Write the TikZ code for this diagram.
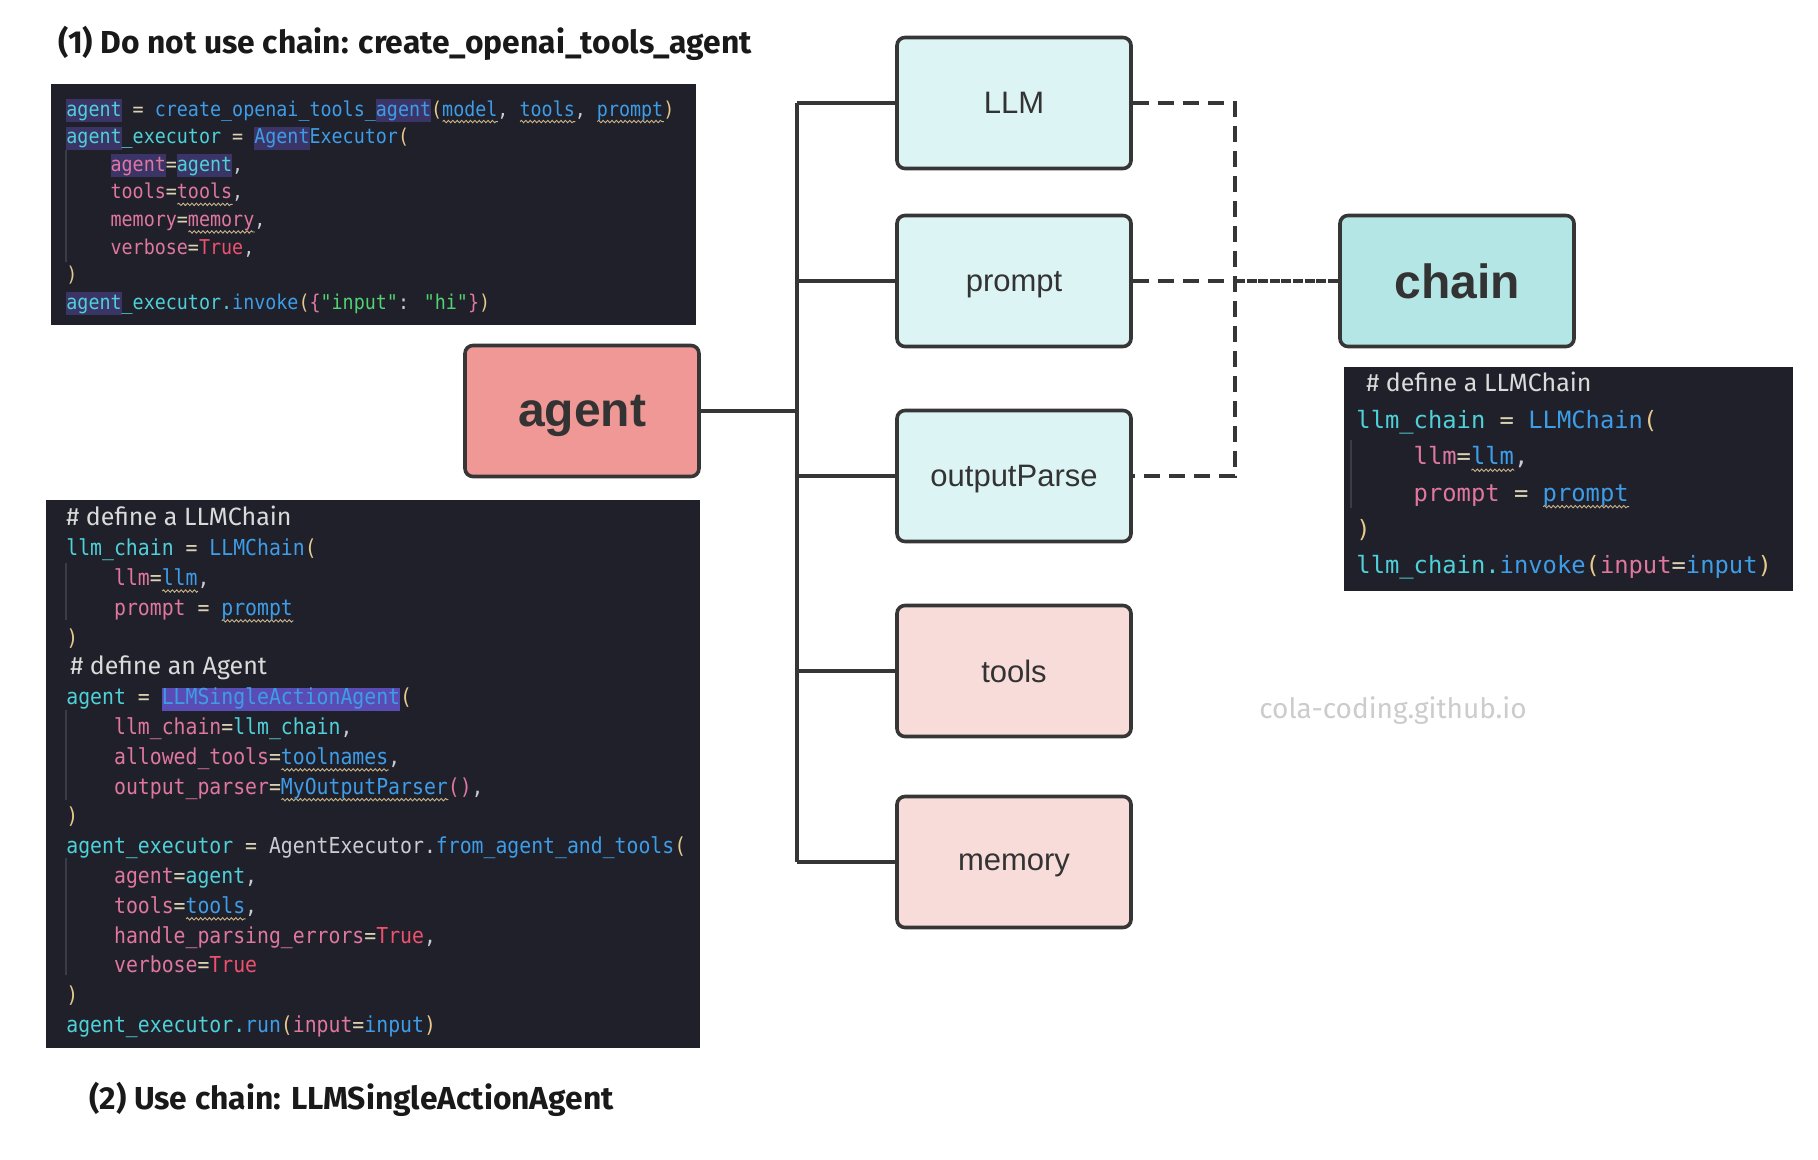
\documentclass[tikz,border=0pt]{standalone}
\usepackage{fontspec}
\usetikzlibrary{decorations.pathmorphing}
\setmainfont{Liberation Sans}
\newfontfamily\handfont{Fira Sans}
\newfontfamily\codefont{DejaVu Sans Mono}[FakeStretch=0.9]
\newfontfamily\menlofont{DejaVu Sans Mono}

% colours
\definecolor{codebg}{HTML}{1F2029}
\definecolor{cyanlt}{HTML}{DCF4F4}
\definecolor{pinklt}{HTML}{F8DCDA}
\definecolor{agentred}{HTML}{EF9896}
\definecolor{chaincyan}{HTML}{B5E6E6}
\definecolor{boxline}{HTML}{363636}
\definecolor{boxtext}{HTML}{333333}
\definecolor{cvar}{HTML}{4FD1D9}
\definecolor{cfun}{HTML}{3E9DE8}
\definecolor{ckey}{HTML}{E0779F}
\definecolor{cbool}{HTML}{F0506E}
\definecolor{cop}{HTML}{DCD3B4}
\definecolor{cparen}{HTML}{E6C98C}
\definecolor{cstr}{HTML}{52D273}
\definecolor{ctxt}{HTML}{C9CCD3}
\definecolor{ccom}{HTML}{DADADA}
\definecolor{hlbg}{HTML}{3A3566}
\definecolor{hlbright}{HTML}{5A4CB5}
\definecolor{wavec}{HTML}{C8B48A}
\definecolor{guide}{HTML}{3A3D48}

% code colouring
\newcommand\tVar[1]{\textcolor{cvar}{#1}}
\newcommand\tFun[1]{\textcolor{cfun}{#1}}
\newcommand\tKey[1]{\textcolor{ckey}{#1}}
\newcommand\tBool[1]{\textcolor{cbool}{#1}}
\newcommand\tOp[1]{\textcolor{cop}{#1}}
\newcommand\tPar[1]{\textcolor{cparen}{#1}}
\newcommand\tStr[1]{\textcolor{cstr}{#1}}
\newcommand\tTxt[1]{\textcolor{ctxt}{#1}}
\newcommand\tCom[1]{{\handfont\fontsize{12.5pt}{14pt}\selectfont\textcolor{ccom}{#1}}}
\newcommand\ind{\phantom{xxxx}}
\newsavebox\wordbox
\newlength\wordlen
\newcommand\hlword[2][hlbg]{\sbox\wordbox{#2}\setlength\wordlen{\wd\wordbox}%
  \smash{\rlap{\color{#1}\rule[-3pt]{\wordlen}{11.5pt}}}\usebox\wordbox}
\newcommand\wavy[1]{\sbox\wordbox{#1}\setlength\wordlen{\wd\wordbox}%
  \smash{\rlap{\raisebox{-3.6pt}{\tikz\draw[wavec, line width=0.45pt, decorate,
    decoration={snake, amplitude=0.6pt, segment length=2.2pt}] (0pt,0pt) -- (\wordlen,0pt);}}}%
  \usebox\wordbox}

\tikzset{
  block/.style={draw=boxline, line width=1.8pt, rounded corners=4pt,
    minimum width=117pt, minimum height=65.5pt, text=boxtext, text depth=0pt,
    font=\fontsize{15.5pt}{18pt}\selectfont},
  partbox/.style={block, fill=cyanlt},
  toolbox/.style={block, fill=pinklt},
  bigbox/.style={block, font=\bfseries\fontsize{24pt}{28pt}\selectfont},
  trunk/.style={draw=boxline, line width=1.8pt},
  dashlink/.style={draw=boxline, line width=1.9pt, dash pattern=on 8pt off 4.5pt},
  chainlink/.style={draw=boxline, line width=2pt, dash pattern=on 5pt off 0.8pt},
  codetext/.style={anchor=north west, align=left, inner sep=0pt, text=ctxt},
  title/.style={anchor=west, inner sep=0pt, text=black!90,
    font=\handfont\bfseries\fontsize{15.9pt}{19pt}\selectfont}
}

\begin{document}
\begin{tikzpicture}[x=0.5pt,y=-0.5pt]
\useasboundingbox[fill=white] (0,0) rectangle (1818,1160);

% code panels
\fill[codebg] (51,84) rectangle (696,325);
\fill[codebg] (46,500) rectangle (700,1048);
\fill[codebg] (1344,367) rectangle (1793,591);
\draw[guide, line width=0.6pt] (66,150) -- (66,262);
\draw[guide, line width=0.6pt] (66,563) -- (66,620);
\draw[guide, line width=0.6pt] (66,710) -- (66,800);
\draw[guide, line width=0.6pt] (66,858) -- (66,975);
\draw[guide, line width=0.6pt] (1351,440) -- (1351,508);

% titles
\node[title] (title1) at (58,43) {(1) Do not use chain: create\_openai\_tools\_agent};
\node[title] (title2) at (89,1099) {(2) Use chain: LLMSingleActionAgent};
\node[text=black!20, font=\handfont\fontsize{14pt}{16pt}\selectfont] (mark) at (1393,711) {cola-coding.github.io};

% code without chain
\node[codetext, font=\codefont\fontsize{10.2pt}{13.8pt}\selectfont] (codeA) at (66,100) {%
\hlword{\tVar{agent}} \tOp{=} \tFun{create\_openai\_tools\_}\hlword{\tFun{agent}}\tPar{(}\wavy{\tFun{model}}\tTxt{,} \wavy{\tFun{tools}}\tTxt{,} \wavy{\tFun{prompt}}\tPar{)}\\
\hlword{\tVar{agent}}\tVar{\_executor} \tOp{=} \hlword{\tFun{Agent}}\tFun{Executor}\tPar{(}\\
\ind\hlword{\tKey{agent}}\tOp{=}\hlword{\tVar{agent}}\tTxt{,}\\
\ind\tKey{tools}\tOp{=}\wavy{\tKey{tools}}\tTxt{,}\\
\ind\tKey{memory}\tOp{=}\wavy{\tKey{memory}}\tTxt{,}\\
\ind\tKey{verbose}\tOp{=}\tBool{True}\tTxt{,}\\
\tPar{)}\\
\hlword{\tVar{agent}}\tVar{\_executor.}\tFun{invoke}\tPar{(}\tKey{\{}\tStr{"input"}\tTxt{:} \tStr{"hi"}\tKey{\}}\tPar{)}};

% code with chain
\node[codetext, font=\codefont\fontsize{11pt}{14.9pt}\selectfont] (codeB) at (66,506) {%
\tCom{\# define a LLMChain}\\
\tVar{llm\_chain} \tOp{=} \tFun{LLMChain}\tPar{(}\\
\ind\tKey{llm}\tOp{=}\wavy{\tFun{llm}}\tTxt{,}\\
\ind\tKey{prompt} \tOp{=} \wavy{\tFun{prompt}}\\
\tPar{)}\\
\hspace*{2pt}\tCom{\# define an Agent}\\
\tVar{agent} \tOp{=} \hlword[hlbright]{\tFun{LLMSingleActionAgent}}\tPar{(}\\
\ind\tKey{llm\_chain}\tOp{=}\tVar{llm\_chain}\tTxt{,}\\
\ind\tKey{allowed\_tools}\tOp{=}\wavy{\tFun{toolnames}}\tTxt{,}\\
\ind\tKey{output\_parser}\tOp{=}\wavy{\tFun{MyOutputParser}}\tKey{()}\tTxt{,}\\
\tPar{)}\\
\tVar{agent\_executor} \tOp{=} \tTxt{AgentExecutor.}\tFun{from\_agent\_and\_tools}\tPar{(}\\
\ind\tKey{agent}\tOp{=}\tVar{agent}\tTxt{,}\\
\ind\tKey{tools}\tOp{=}\wavy{\tFun{tools}}\tTxt{,}\\
\ind\tKey{handle\_parsing\_errors}\tOp{=}\tBool{True}\tTxt{,}\\
\ind\tKey{verbose}\tOp{=}\tBool{True}\\
\tPar{)}\\
\tVar{agent\_executor.}\tFun{run}\tPar{(}\tKey{input}\tOp{=}\tFun{input}\tPar{)}};

% chain code
\node[codetext, font=\menlofont\fontsize{11.9pt}{18.2pt}\selectfont] (codeC) at (1356,372) {%
\hspace*{5pt}\tCom{\# define a LLMChain}\\
\tVar{llm\_chain} \tOp{=} \tFun{LLMChain}\tPar{(}\\
\ind\tKey{llm}\tOp{=}\wavy{\tFun{llm}}\tTxt{,}\\
\ind\tKey{prompt} \tOp{=} \wavy{\tFun{prompt}}\\
\tPar{)}\\
\tVar{llm\_chain.}\tFun{invoke}\tPar{(}\tKey{input}\tOp{=}\tFun{input}\tPar{)}};

% blocks
\node[bigbox, fill=agentred] (agent) at (582,411) {agent};
\node[partbox] (llm) at (1014,103) {LLM};
\node[partbox] (prompt) at (1014,281) {prompt};
\node[partbox] (parser) at (1014,476) {outputParse};
\node[toolbox] (tools) at (1014,671) {tools};
\node[toolbox] (memory) at (1014,862) {memory};
\node[bigbox, fill=chaincyan] (chain) at (1457,281) {chain};

% tree from agent
\coordinate (bus) at (797,0);
\draw[trunk] (agent.east) -- (agent.east -| bus);
\draw[trunk] (bus |- llm.west) -- (bus |- memory.west);
\foreach \n in {llm,prompt,parser,tools,memory}
  \draw[trunk] (bus |- \n.west) -- (\n.west);

% dashed links to chain
\coordinate (dbus) at (1235,0);
\draw[dashlink] (llm.east) -- (llm.east -| dbus) -- (dbus |- parser.east) -- (parser.east);
\draw[dashlink] (prompt.east) -- (prompt.east -| dbus);
\draw[chainlink] (prompt.east -| dbus) -- (chain.west);
\end{tikzpicture}
\end{document}
